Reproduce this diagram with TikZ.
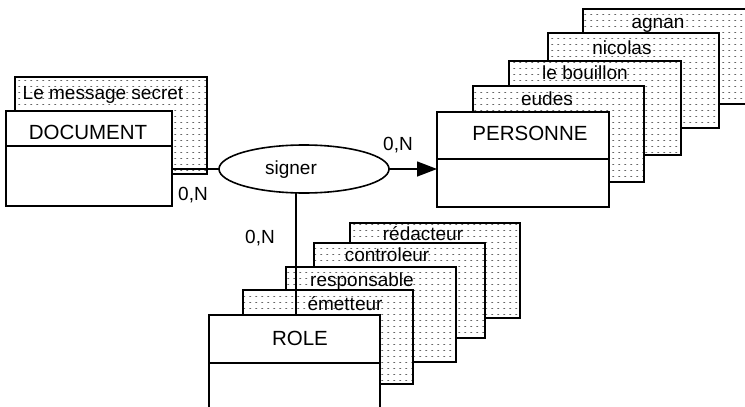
\documentclass[tikz,border=0pt]{standalone}
\usepackage{fontspec}
\setmainfont{Liberation Sans}
\usetikzlibrary{patterns,shapes.geometric,arrows.meta}
\pgfdeclarepatternformonly{cdots}{\pgfqpoint{0pt}{0pt}}{\pgfqpoint{5.5pt}{6pt}}{\pgfqpoint{5.5pt}{6pt}}{%
  \pgfpathrectangle{\pgfqpoint{1.5pt}{2.5pt}}{\pgfqpoint{2pt}{0.9pt}}\pgfusepath{fill}}
\begin{document}
\begin{tikzpicture}[x=1pt,y=-1pt,
  card/.style={draw, line width=1.6pt, preaction={fill=white}, pattern=cdots, pattern color=black!60,
    anchor=north west, inner sep=0pt, outer sep=0pt},
  entbox/.style={draw, line width=1.6pt, fill=white, anchor=north west, inner sep=0pt, outer sep=0pt},
  txt/.style={inner sep=0pt, font=\fontsize{19}{22}\selectfont},
  bigtxt/.style={inner sep=0pt, font=\fontsize{20.5}{24}\selectfont},
  conn/.style={line width=1.4pt}]
\useasboundingbox (0,0) rectangle (745,407);

% DOCUMENT
\node[card, minimum width=192pt, minimum height=97pt] (msg) at (15,77) {};
\node[txt] (tmsg) at (103,95) {Le message secret};
\node[entbox, minimum width=166pt, minimum height=95pt] (doc) at (6,111) {};
\draw[line width=1.6pt] ([yshift=-35pt]doc.north west) -- ([yshift=-35pt]doc.north east);
\node[bigtxt] (tdoc) at (88,132.5) {DOCUMENT};

% PERSONNE
\node[card, minimum width=172pt, minimum height=95pt] (agnan) at (583,9) {};
\node[txt] (tagnan) at (658,25) {agnan};
\node[card, minimum width=171pt, minimum height=95pt] (nicolas) at (548,33) {};
\node[txt] (tnicolas) at (622,47.5) {nicolas};
\node[card, minimum width=172pt, minimum height=94pt] (bouillon) at (509,61) {};
\node[txt] (tbouillon) at (585,72.5) {le bouillon};
\node[card, minimum width=171pt, minimum height=96pt] (eudes) at (473,86) {};
\node[txt] (teudes) at (547,98.5) {eudes};
\node[entbox, minimum width=172pt, minimum height=95pt] (pers) at (437,112) {};
\draw[line width=1.6pt] ([yshift=-47pt]pers.north west) -- ([yshift=-47pt]pers.north east);
\node[bigtxt] (tpers) at (530,133.5) {PERSONNE};

% ROLE
\node[card, minimum width=170pt, minimum height=95pt] (redac) at (350,223) {};
\node[txt] (tredac) at (423,233.5) {rédacteur};
\node[card, minimum width=171pt, minimum height=95pt] (contr) at (314,243) {};
\node[txt] (tcontr) at (387,254.5) {controleur};
\node[card, minimum width=170pt, minimum height=95pt] (resp) at (286,267) {};
\node[txt] (tresp) at (362,282) {responsable};
\node[card, minimum width=170pt, minimum height=94pt] (emet) at (243,290) {};
\node[txt] (temet) at (345,303.5) {émetteur};
\node[entbox, minimum width=171pt, minimum height=95pt] (role) at (209,315) {};
\draw[line width=1.6pt] ([yshift=-48pt]role.north west) -- ([yshift=-48pt]role.north east);
\node[bigtxt] (trole) at (300,338.5) {ROLE};

% association
\node[draw, ellipse, line width=1.6pt, fill=white, minimum width=170pt, minimum height=48pt, inner sep=0pt, outer sep=0pt] (signer) at (304,169) {};
\node[txt] (tsigner) at (291,169.5) {signer};

% connectors
\draw[conn] (signer.west) -- (signer.west -| doc.east);
\draw[conn, -{Triangle[length=20pt,width=15pt]}] (signer.east) -- (signer.east -| pers.west);
\coordinate (vtop) at ([xshift=-8pt]signer.south);
\draw[conn] (vtop) -- (vtop |- role.north);

% cardinalities
\node[txt] (c1) at (193,195) {0,N};
\node[txt] (c2) at (398,145) {0,N};
\node[txt] (c3) at (260,238) {0,N};
\end{tikzpicture}
\end{document}
